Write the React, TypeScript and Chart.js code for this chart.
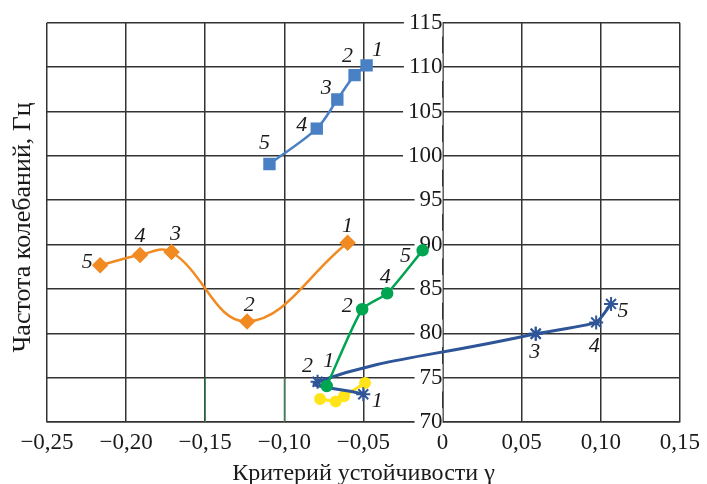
import React, { useEffect, useRef } from 'react';
import { Chart, registerables } from 'chart.js';

Chart.register(...registerables);

// ---- data ----
const blueX = [-0.048, -0.0556, -0.0665, -0.0795, -0.1094];
const blueY = [110.2, 109.1, 106.35, 103.07, 99.08];
const blueLabels = ['1', '2', '3', '4', '5'];

const orangeX = [-0.06, -0.1235, -0.1713, -0.1912, -0.2164];
const orangeY = [90.2, 81.33, 89.16, 88.83, 87.67];
const orangeLabels = ['1', '2', '3', '4', '5'];

const greenX = [-0.0732, -0.0508, -0.035, -0.0126];
const greenY = [74.06, 82.71, 84.5, 89.35];
const greenLabels = ['1', '2', '4', '5'];

const navyX = [-0.0501, -0.079, 0.0589, 0.0971, 0.1065];
const navyY = [73.13, 74.54, 79.95, 81.22, 83.31];
const navyLabels = ['1', '2', '3', '4', '5'];

const yellowX = [-0.0774, -0.0675, -0.0623, -0.049];
const yellowY = [72.6, 72.3, 72.9, 74.4];

// thin green strokes seen on two grid lines near the bottom
const markX = [-0.15, -0.1];
const markY = [70, 75];

const xMin = -0.25;
const xMax = 0.15;
const xStep = 0.05;
const yMin = 70;
const yMax = 115;
const yStep = 5;

const xTitle = 'Критерий устойчивости γ';
const yTitle = 'Частота колебаний, Гц';

// ---- styles ----
const SERIF = "'Liberation Serif', 'Times New Roman', serif";
const GRID = '#333333';
const TEXT = '#1a1a1a';
const NAVY = '#2d5597';

const LABEL_OFFSETS: Record<string, number[][]> = {
  blue: [[11, -15], [-7, -19], [-11, -11], [-15, -3], [-5, -21]],
  orange: [[0, -17], [2, -16], [4, -18], [0, -19], [-13, -3]],
  green: [[2, -25], [-15, -3], [-2, -16], [-17, 6]],
  navyA: [[14, 7], [-10, -16], [-1, 18]],
  navyB: [[-1, 18], [-2, 24], [12, 7]],
};

const zip = (xs: number[], ys: number[]) => xs.map((x, i) => ({ x, y: ys[i] }));

const fmtX = (v: number) => {
  const n = Math.round(v * 100) / 100;
  if (n === 0) return '0';
  const s = Math.abs(n).toFixed(2).replace('.', ',');
  return n < 0 ? '\u2212' + s : s;
};

const pointLabelPlugin = {
  id: 'pointLabels',
  afterDatasetsDraw(chart: any) {
    const ctx = chart.ctx;
    ctx.save();
    ctx.font = `italic 22px ${SERIF}`;
    ctx.fillStyle = TEXT;
    ctx.textAlign = 'center';
    ctx.textBaseline = 'middle';
    chart.data.datasets.forEach((ds: any, di: number) => {
      if (!ds.pointLabels) return;
      const meta = chart.getDatasetMeta(di);
      const offs = LABEL_OFFSETS[ds.labelKey] || [];
      meta.data.forEach((el: any, i: number) => {
        const txt = ds.pointLabels[i];
        if (!txt) return;
        const o = offs[i] || [0, -15];
        ctx.fillText(txt, el.x + o[0], el.y + o[1]);
      });
    });
    ctx.restore();
  },
};

const yTitlePlugin = {
  id: 'yTitle',
  afterDraw(chart: any) {
    const { ctx, chartArea } = chart;
    ctx.save();
    ctx.font = `26px ${SERIF}`;
    ctx.fillStyle = TEXT;
    ctx.textAlign = 'center';
    ctx.textBaseline = 'middle';
    ctx.translate(23, (chartArea.top + chartArea.bottom) / 2 + 5);
    ctx.rotate(-Math.PI / 2);
    ctx.fillText(yTitle, 0, 0);
    ctx.restore();
  },
};

export default function App() {
  const ref = useRef<HTMLCanvasElement | null>(null);

  useEffect(() => {
    if (!ref.current) return;
    const chart = new Chart(ref.current, {
      type: 'line',
      data: {
        datasets: [
          {
            label: 'blue',
            labelKey: 'blue',
            pointLabels: blueLabels,
            data: zip(blueX, blueY),
            borderColor: '#4a80c4',
            backgroundColor: '#4a80c4',
            borderWidth: 2.5,
            pointStyle: 'rect',
            pointRadius: 7,
            tension: 0.3,
          } as any,
          {
            label: 'orange',
            labelKey: 'orange',
            pointLabels: orangeLabels,
            data: zip(orangeX, orangeY),
            borderColor: '#f28a22',
            backgroundColor: '#f28a22',
            borderWidth: 2.5,
            pointStyle: 'rectRot',
            pointRadius: 6.5,
            tension: 0.4,
          } as any,
          {
            label: 'green',
            labelKey: 'green',
            pointLabels: greenLabels,
            data: zip(greenX, greenY),
            borderColor: '#00a551',
            backgroundColor: '#00a551',
            borderWidth: 2.5,
            pointStyle: 'circle',
            pointRadius: 5,
            tension: 0.2,
          } as any,
          {
            label: 'navy (1–3)',
            labelKey: 'navyA',
            pointLabels: navyLabels.slice(0, 3),
            data: zip(navyX.slice(0, 3), navyY.slice(0, 3)),
            borderColor: NAVY,
            backgroundColor: NAVY,
            borderWidth: 3,
            pointStyle: 'star',
            pointRadius: 7,
            pointBorderWidth: 2,
            tension: 0.5,
          } as any,
          {
            label: 'navy (3–5)',
            labelKey: 'navyB',
            pointLabels: ['', ...navyLabels.slice(3)],
            data: zip(navyX.slice(2), navyY.slice(2)),
            borderColor: NAVY,
            backgroundColor: NAVY,
            borderWidth: 3,
            pointStyle: 'star',
            pointRadius: 7,
            pointBorderWidth: 2,
            tension: 0.15,
          } as any,
          {
            label: 'yellow',
            data: zip(yellowX, yellowY),
            borderColor: '#ffe41a',
            backgroundColor: '#ffe41a',
            borderWidth: 3,
            pointStyle: 'circle',
            pointRadius: 4.5,
            tension: 0,
          } as any,
          {
            label: 'mark1',
            data: zip([markX[0], markX[0]], markY),
            borderColor: '#3a8a5a',
            borderWidth: 1.2,
            pointRadius: 0,
          } as any,
          {
            label: 'mark2',
            data: zip([markX[1], markX[1]], markY),
            borderColor: '#3a8a5a',
            borderWidth: 1.2,
            pointRadius: 0,
          } as any,
        ],
      },
      options: {
        animation: false,
        responsive: true,
        maintainAspectRatio: false,
        layout: { padding: { top: 20, right: 24, bottom: 0, left: 47 } },
        plugins: {
          legend: { display: false },
          tooltip: { enabled: false },
        },
        scales: {
          x: {
            type: 'linear',
            position: 'bottom',
            min: xMin,
            max: xMax,
            grid: { color: GRID, lineWidth: 1.5, drawTicks: false },
            border: { display: true, color: GRID, width: 1.5 },
            ticks: {
              stepSize: xStep,
              padding: 7,
              color: TEXT,
              font: { family: SERIF, size: 23, lineHeight: 1.2 },
              callback: (v: any) => fmtX(Number(v)),
            },
            title: {
              display: true,
              text: xTitle,
              color: TEXT,
              font: { family: SERIF, size: 24, lineHeight: 0.85 },
              padding: { top: 0, bottom: 0 },
            },
          },
          y: {
            type: 'linear',
            position: { x: 0 } as any,
            min: yMin,
            max: yMax,
            grid: { color: GRID, lineWidth: 1.5, drawTicks: false },
            border: { display: true, color: GRID, width: 1.5 },
            ticks: {
              stepSize: yStep,
              padding: 9,
              color: TEXT,
              font: { family: SERIF, size: 23, lineHeight: 1.2 },
              showLabelBackdrop: true,
              backdropColor: '#ffffff',
              backdropPadding: { left: 5, right: 0, top: 0, bottom: 0 },
            },
          },
        },
      } as any,
      plugins: [pointLabelPlugin, yTitlePlugin],
    });
    return () => chart.destroy();
  }, []);

  return (
    <div style={{ position: 'fixed', left: 0, top: 0, width: 707, height: 484, background: '#fff' }}>
      <canvas ref={ref} />
    </div>
  );
}
